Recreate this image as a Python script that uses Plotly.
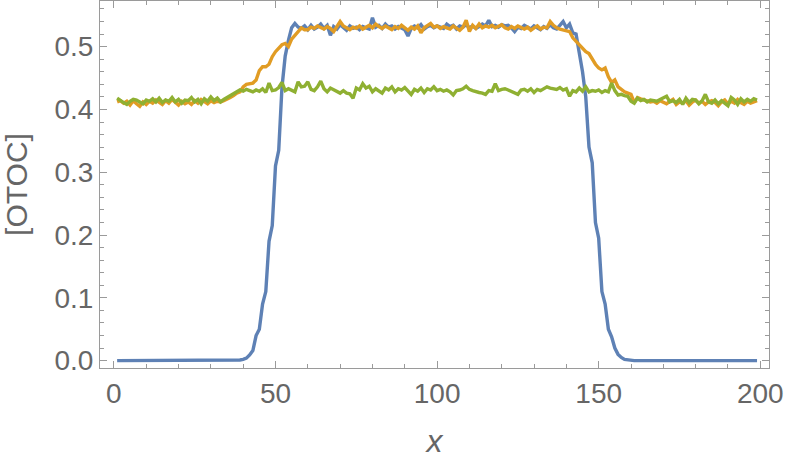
import plotly.graph_objects as go

x_vals = list(range(1, 200))

blue_vals = (
    [0.0] * 37
    + [0.0, 0.001, 0.002, 0.004, 0.009, 0.016, 0.04, 0.05, 0.09, 0.11,
       0.19, 0.215, 0.31, 0.335, 0.435, 0.485, 0.51, 0.53, 0.537, 0.531]
    + [0.529, 0.533, 0.527, 0.534, 0.528, 0.531, 0.536, 0.529, 0.534, 0.518,
       0.532, 0.528, 0.535, 0.530, 0.526, 0.533, 0.529, 0.531, 0.527, 0.532,
       0.530, 0.528, 0.546, 0.531, 0.534, 0.529, 0.536, 0.531, 0.533, 0.528,
       0.532, 0.530, 0.527, 0.517, 0.529, 0.533, 0.530, 0.535, 0.528, 0.532,
       0.534, 0.530, 0.533, 0.531, 0.529, 0.536, 0.532, 0.534, 0.528, 0.533,
       0.531, 0.535, 0.530, 0.533, 0.529, 0.532, 0.536, 0.533, 0.542, 0.532,
       0.534, 0.531, 0.535, 0.533, 0.534, 0.530, 0.524, 0.531, 0.529, 0.534,
       0.531, 0.528, 0.533, 0.530, 0.527, 0.532, 0.529, 0.535, 0.530, 0.528,
       0.534, 0.540, 0.530]
    + [0.536, 0.522, 0.520, 0.49, 0.46, 0.42, 0.34, 0.315, 0.22, 0.195,
       0.11, 0.09, 0.05, 0.038, 0.02, 0.01, 0.005, 0.002, 0.001]
    + [0.0] * 40
)

orange_vals = [
    0.412, 0.414, 0.410, 0.413, 0.407, 0.414, 0.409, 0.405, 0.412, 0.408,
    0.413, 0.410, 0.415, 0.411, 0.408, 0.414, 0.410, 0.416, 0.411, 0.407,
    0.413, 0.409, 0.412, 0.408, 0.414, 0.410, 0.416, 0.412, 0.409, 0.414,
    0.411, 0.413, 0.412,
    0.414, 0.416, 0.419, 0.422, 0.426, 0.428, 0.436, 0.440, 0.441, 0.442,
    0.447, 0.462, 0.468, 0.468, 0.472, 0.484, 0.492, 0.498, 0.503, 0.505,
    0.500, 0.512, 0.518, 0.525, 0.530, 0.527,
    0.527, 0.531, 0.529, 0.533, 0.530, 0.528, 0.532, 0.529, 0.524, 0.531,
    0.540, 0.533, 0.530, 0.527, 0.531, 0.529, 0.533, 0.528, 0.531, 0.534,
    0.530, 0.536, 0.532, 0.529, 0.533, 0.530, 0.527, 0.532, 0.529, 0.534,
    0.530, 0.526, 0.531, 0.528, 0.533, 0.522, 0.530, 0.534, 0.537, 0.531,
    0.533, 0.529, 0.532, 0.530, 0.528, 0.533, 0.530, 0.526, 0.531, 0.542,
    0.524, 0.534, 0.529, 0.536, 0.530, 0.533, 0.531, 0.534, 0.530, 0.532,
    0.535, 0.530, 0.528, 0.532, 0.529, 0.533, 0.530, 0.528, 0.531, 0.526,
    0.530, 0.533, 0.528, 0.531, 0.530, 0.540, 0.534, 0.530, 0.528, 0.527,
    0.525,
    0.524, 0.514, 0.508, 0.504, 0.498, 0.492, 0.489, 0.480, 0.472, 0.466,
    0.463, 0.466, 0.452, 0.443, 0.447, 0.436, 0.432, 0.428, 0.426, 0.424,
    0.411, 0.419, 0.417, 0.415, 0.414,
    0.412, 0.413, 0.410, 0.414, 0.411, 0.409, 0.413, 0.416, 0.408, 0.412,
    0.410, 0.414, 0.407, 0.412, 0.415, 0.410, 0.413, 0.408, 0.412, 0.414,
    0.411, 0.406, 0.412, 0.415, 0.409, 0.413, 0.410, 0.416, 0.411, 0.408,
    0.413, 0.410, 0.412, 0.414,
]

green_vals = [
    0.418, 0.414, 0.411, 0.408, 0.413, 0.416, 0.415, 0.412, 0.409, 0.415,
    0.413, 0.417, 0.412, 0.418, 0.411, 0.415, 0.413, 0.419, 0.412, 0.416,
    0.410, 0.415, 0.414, 0.419, 0.412, 0.416, 0.409, 0.417, 0.413, 0.420,
    0.414, 0.418, 0.412, 0.416, 0.419, 0.421, 0.425, 0.428,
    0.431, 0.429, 0.432, 0.430, 0.428, 0.431, 0.429, 0.433, 0.427, 0.442,
    0.430, 0.431, 0.435, 0.443, 0.430, 0.433, 0.431, 0.428, 0.444, 0.436,
    0.437, 0.444, 0.432, 0.430, 0.436, 0.445, 0.433, 0.428, 0.434, 0.431,
    0.429, 0.426, 0.430, 0.426, 0.425, 0.418, 0.434, 0.431, 0.441, 0.434,
    0.437, 0.428, 0.433, 0.430, 0.426, 0.434, 0.431, 0.436, 0.428, 0.433,
    0.431, 0.435, 0.430, 0.424, 0.432, 0.429, 0.434, 0.427, 0.433, 0.431,
    0.436, 0.430, 0.432, 0.429, 0.431, 0.428, 0.423, 0.430, 0.431, 0.433,
    0.437, 0.432, 0.430, 0.428, 0.427, 0.426, 0.424, 0.430, 0.429, 0.441,
    0.430, 0.432, 0.433, 0.431, 0.429, 0.427, 0.424, 0.431, 0.432, 0.429,
    0.433, 0.427, 0.432, 0.430, 0.433, 0.436, 0.434, 0.433, 0.432, 0.435,
    0.431, 0.433, 0.421, 0.430, 0.428, 0.434, 0.429, 0.436, 0.428, 0.430,
    0.429, 0.431, 0.427, 0.430, 0.428, 0.442, 0.430,
    0.423, 0.424, 0.422, 0.421, 0.413, 0.410, 0.418, 0.414, 0.416, 0.412,
    0.415, 0.414, 0.413, 0.416, 0.418, 0.421, 0.412, 0.414, 0.411, 0.416,
    0.408, 0.418, 0.411, 0.416, 0.415, 0.409, 0.414, 0.424, 0.412, 0.410,
    0.415, 0.409, 0.414, 0.410, 0.406, 0.419, 0.415, 0.408, 0.417, 0.412,
    0.416, 0.413, 0.417, 0.415,
]

series = [
    ("blue", blue_vals, "#5E81B5"),
    ("orange", orange_vals, "#E19C24"),
    ("green", green_vals, "#8FB032"),
]

fig = go.Figure()
for name, vals, color in series:
    n = min(len(vals), len(x_vals))
    fig.add_trace(go.Scatter(
        x=x_vals[:n], y=vals[:n], mode="lines", name=name,
        line=dict(color=color, width=3.4), showlegend=False,
    ))

axis_common = dict(
    showline=True, linecolor="#9a9a9a", linewidth=1, mirror="ticks",
    ticks="inside", tickcolor="#9a9a9a", ticklen=7, tickwidth=1,
    showgrid=False, zeroline=False, automargin=False,
    tickfont=dict(family="Liberation Sans", size=28, color="#666666"),
)

fig.update_layout(
    width=789, height=465,
    margin=dict(l=100, r=20, t=1, b=97, autoexpand=False),
    paper_bgcolor="white", plot_bgcolor="white",
    xaxis=dict(
        range=[-4.3, 202.7], tick0=0, dtick=50,
        minor=dict(dtick=10, ticks="inside", ticklen=4, tickcolor="#9a9a9a"),
        title=dict(text="<i>x</i>", standoff=22,
                   font=dict(family="Liberation Sans", size=32, color="#666666")),
        **axis_common,
    ),
    yaxis=dict(
        range=[-0.0117, 0.5727], tick0=0, dtick=0.1, tickformat=".1f",
        minor=dict(dtick=0.02, ticks="inside", ticklen=4, tickcolor="#9a9a9a"),
        title=dict(text="[OTOC]", standoff=20,
                   font=dict(family="Liberation Sans", size=30, color="#666666")),
        **axis_common,
    ),
)

fig.write_html(
    "out.html",
    config={"displayModeBar": False},
    post_script="document.body.style.margin='0';document.body.style.overflow='hidden';",
)
